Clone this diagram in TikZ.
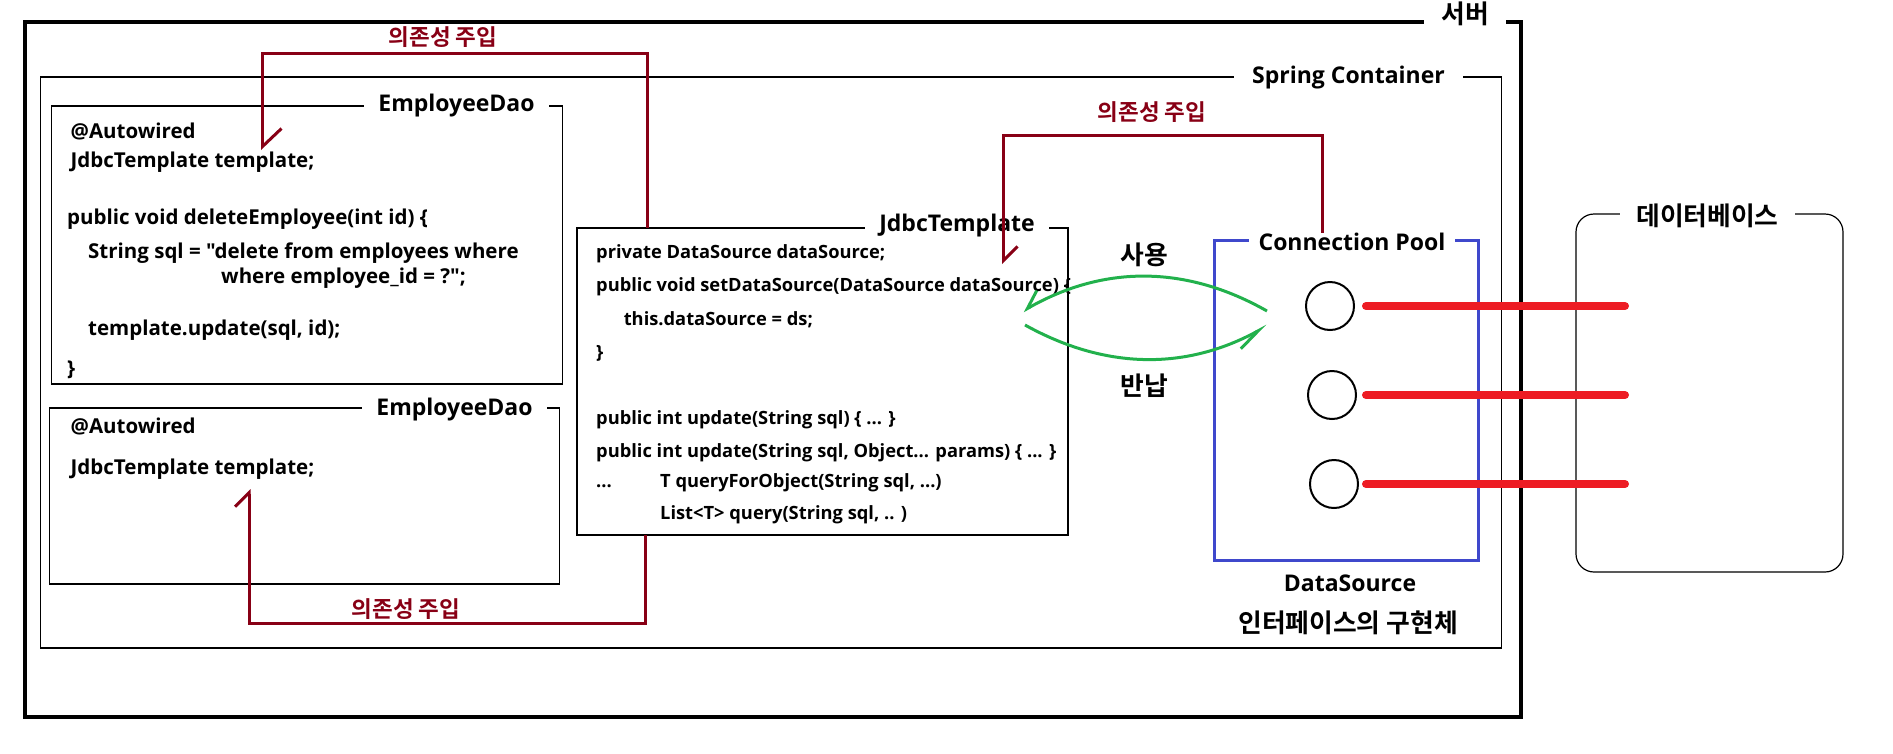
\documentclass[tikz,border=0pt]{standalone}
\usepackage{fontspec}
\newfontfamily\lat{Open Sans}
\newfontfamily\kr{Noto Sans CJK KR Bold}
\usetikzlibrary{arrows.meta,calc}
\definecolor{injred}{HTML}{880015}
\definecolor{usegreen}{HTML}{22B14C}
\definecolor{poolblue}{HTML}{3F48CC}
\definecolor{connred}{HTML}{ED1C24}
\tikzset{
  box/.style={draw, line width=1.2pt, inner sep=0pt, outer sep=0pt},
  title/.style={fill=white, inner xsep=14pt, inner ysep=0pt, font=\lat\bfseries\fontsize{23}{27}\selectfont, text height=17pt, text depth=5pt},
  krtitle/.style={fill=white, inner xsep=16pt, inner ysep=0pt, font=\kr\fontsize{25.8}{30}\selectfont, text height=19pt, text depth=4pt},
  code/.style={anchor=west, inner sep=0pt, font=\lat\bfseries\fontsize{20.5}{24}\selectfont, text height=15pt, text depth=5pt},
  jcode/.style={code, font=\lat\bfseries\fontsize{18.3}{22}\selectfont, text height=14pt, text depth=4.5pt},
  plainlabel/.style={inner sep=0pt, font=\lat\bfseries\fontsize{23}{27}\selectfont},
  krlabel/.style={inner sep=0pt, font=\kr\fontsize{25.8}{30}\selectfont},
  injlabel/.style={inner sep=0pt, text=injred, font=\kr\fontsize{22.5}{27}\selectfont},
  injarrow/.style={draw=injred, line width=3pt, -{Straight Barb[harpoon, length=18pt, width=38pt]}},
  usearrow/.style={draw=usegreen, line width=3pt},
  conn/.style={draw=connred, line width=8pt, line cap=round},
  slot/.style={draw, circle, line width=2pt, minimum size=48pt, inner sep=0pt}
}
\begin{document}
\begin{tikzpicture}[x=1pt,y=-1pt]
\useasboundingbox (0,0) rectangle (1893,753);
% containers
\node[box, line width=3.5pt, minimum width=1496pt, minimum height=695pt] (server) at (773,369.5) {};
\node[box, minimum width=1461pt, minimum height=571pt] (spring) at (771.3,362.4) {};
\node[box, minimum width=511pt, minimum height=278pt] (emp1) at (306.8,245) {};
\node[box, minimum width=510pt, minimum height=176pt] (emp2) at (304.8,496) {};
\node[box, minimum width=491pt, minimum height=307pt] (jdbc) at (822.5,381.5) {};
\node[box, draw=poolblue, line width=3pt, minimum width=264pt, minimum height=320pt] (pool) at (1346.8,400.9) {};
\node[box, rounded corners=18pt, minimum width=267pt, minimum height=358pt] (db) at (1709.5,393) {};
% titles
\node[krtitle, inner xsep=17pt] (servertitle) at (1465,16) {서버};
\node[title, inner xsep=18pt] (springtitle) at (1348.5,77) {Spring Container};
\node[title] (emp1title) at (456.5,105) {EmployeeDao};
\node[title] (emp2title) at (454.5,409) {EmployeeDao};
\node[title] (jdbctitle) at (957,225) {JdbcTemplate};
\node[title, inner xsep=10pt] (pooltitle) at (1352,244) {Connection Pool};
\node[krtitle] (dbtitle) at (1707.5,218) {데이터베이스};
% EmployeeDao 1 code
\node[code] (e1a) at (70.5,133) {@Autowired};
\node[code] (e1b) at (70.5,162) {JdbcTemplate template;};
\node[code] (e1c) at (67,219) {public void deleteEmployee(int id) \{};
\node[code] (e1d) at (88,253) {String sql = "delete from employees where};
\node[code] (e1e) at (221,278) {where employee\_id = ?";};
\node[code] (e1f) at (88,330) {template.update(sql, id);};
\node[code] (e1g) at (67,370) {\}};
% EmployeeDao 2 code
\node[code] (e2a) at (70.5,428) {@Autowired};
\node[code] (e2b) at (70.5,469) {JdbcTemplate template;};
% JdbcTemplate code
\node[jcode] (j1) at (596,254) {private DataSource dataSource;};
\node[jcode] (j2) at (596,287) {public void setDataSource(DataSource dataSource) \{};
\node[jcode] (j3) at (623.6,321) {this.dataSource = ds;};
\node[jcode] (j4) at (596,354) {\}};
\node[jcode] (j5) at (596,420) {public int update(String sql) \{ ... \}};
\node[jcode] (j6) at (596,453) {public int update(String sql, Object... params) \{ ... \}};
\node[jcode] (j7) at (596,483) {...};
\node[jcode] (j8) at (660,483) {T queryForObject(String sql, ...)};
\node[jcode] (j9) at (660,515) {List<T> query(String sql, .. )};
% DataSource labels
\node[plainlabel] (dslabel) at (1350,583) {DataSource};
\node[krlabel] (implabel) at (1348,623) {인터페이스의 구현체};
% connections in the pool
\node[slot] (c1) at (1330,306) {};
\node[slot] (c2) at (1332,395) {};
\node[slot] (c3) at (1334,484) {};
\draw[conn] ($(c1.center)+(36,0)$) -- ($(c1 -| db.west)+(49,0)$);
\draw[conn] ($(c2.center)+(34,0)$) -- ($(c2 -| db.west)+(49,0)$);
\draw[conn] ($(c3.center)+(32,0)$) -- ($(c3 -| db.west)+(49,0)$);
% use / return
\coordinate (g1s) at (1267,311);
\coordinate (g1e) at (1023,311);
\coordinate (g2s) at (1025,325);
\coordinate (g2e) at (1267,326);
\draw[usearrow, -{Straight Barb[harpoon, swap, length=17pt, width=22pt]}] (g1s) .. controls +(-81,-46) and +(81,-46) .. (g1e);
\draw[usearrow, -{Straight Barb[harpoon, swap, length=24pt, width=15pt]}] (g2s) .. controls +(81,45) and +(-81,44) .. (g2e);
\node[krlabel] (uselabel) at (1144,255) {사용};
\node[krlabel] (retlabel) at (1144,386) {반납};
% dependency injection
\coordinate (k1) at (647,53);
\coordinate (k1e) at (262.5,150);
\draw[injarrow] (jdbc.north -| k1) -- (k1) -| (k1e);
\node[injlabel] (inj1) at (443,37) {의존성 주입};
\coordinate (k2) at (645,623);
\coordinate (k2e) at (249,489);
\draw[injarrow, -{Straight Barb[harpoon, length=14pt, width=28pt]}] (jdbc.south -| k2) -- (k2) -| (k2e);
\node[injlabel] (inj2) at (406,609) {의존성 주입};
\coordinate (k3) at (1322.5,135);
\coordinate (k3e) at (1003.5,264);
\draw[injarrow, -{Straight Barb[harpoon, length=14pt, width=28pt]}] (pooltitle.north -| k3) -- (k3) -| (k3e);
\node[injlabel] (inj3) at (1152,112) {의존성 주입};
\end{tikzpicture}
\end{document}
